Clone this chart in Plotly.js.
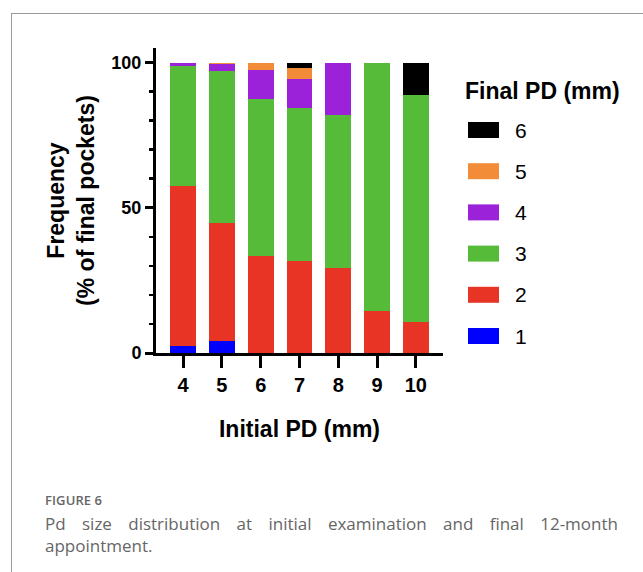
<!DOCTYPE html>
<html>
<head>
<meta charset="utf-8">
<script src="https://cdn.plot.ly/plotly-3.0.1.min.js"></script>
<style>
  html, body { margin: 0; padding: 0; background: #fff; }
  #wrap { position: relative; width: 643px; height: 572px; overflow: hidden; }
  #chart { position: absolute; left: 0; top: 0; width: 643px; height: 572px; }
  #frame { position: absolute; left: 11px; top: 13px; right: -5px; bottom: -5px;
           border-left: 1px solid #9a9a9a; border-top: 1px solid #9a9a9a; pointer-events: none; }
  .cap { position: absolute; left: 45px; width: 573px; font-family: "Open Sans", sans-serif; color: #666; margin: 0; }
  #figlabel { top: 492px; font-size: 13px; line-height: 16px; font-weight: 600; letter-spacing: 0.1px; }
  #line1 { top: 513px; font-size: 17px; line-height: 22px; text-align: justify; text-align-last: justify; }
  #line2 { top: 535px; font-size: 17px; line-height: 22px; }
</style>
</head>
<body>
<div id="wrap">
  <div id="chart"></div>
  <div id="frame"></div>
  <div class="cap" id="figlabel">FIGURE 6</div>
  <div class="cap" id="line1">Pd size distribution at initial examination and final 12-month</div>
  <div class="cap" id="line2">appointment.</div>
</div>
<script>
// Categories: initial PD (mm)
const initialPD = ['4', '5', '6', '7', '8', '9', '10'];
// Series: final PD (mm), % of final pockets
const finalPD1 = [2.3, 4.2, 0, 0, 0, 0, 0];
const finalPD2 = [55.3, 40.6, 33.5, 31.7, 29.2, 14.5, 10.6];
const finalPD3 = [41.1, 52.2, 54.0, 52.8, 52.9, 85.5, 78.2];
const finalPD4 = [1.3, 2.5, 9.9, 9.8, 17.9, 0, 0];
const finalPD5 = [0, 0.5, 2.6, 3.7, 0, 0, 0];
const finalPD6 = [0, 0, 0, 2.0, 0, 0, 11.2];
const seriesNames = ['1', '2', '3', '4', '5', '6'];
const seriesColors = ['#0000ff', '#e83425', '#57bb3a', '#9b22d9', '#f28c38', '#000000'];
const yTickVals = [0, 50, 100];
const yTickText = ['0', '50', '100'];

const seriesValues = [finalPD1, finalPD2, finalPD3, finalPD4, finalPD5, finalPD6];
const FONT = '"Liberation Sans", Arial, sans-serif';

const traces = seriesValues.map((vals, i) => ({
  type: 'bar',
  name: seriesNames[i],
  x: initialPD,
  y: vals,
  marker: { color: seriesColors[i], line: { width: 0 } },
  showlegend: false,
  hoverinfo: 'x+y+name'
}));

// Plot area geometry in pixels
const W = 643, H = 572;
const M = { l: 156, r: 200, t: 48, b: 219 };
const pw = W - M.l - M.r, ph = H - M.t - M.b;
const px2x = px => (px - M.l) / pw;
const py2y = py => (H - M.b - py) / ph;

// Custom legend (top item = 6, bottom item = 1)
const shapes = [];
const annotations = [];
annotations.push({
  xref: 'paper', yref: 'paper', x: px2x(463), y: py2y(91),
  xanchor: 'left', yanchor: 'middle', showarrow: false,
  text: '<b>Final PD (mm)</b>', font: { family: FONT, size: 23, color: '#000' }
});
for (let k = 0; k < seriesNames.length; k++) {
  const i = seriesNames.length - 1 - k;
  const cy = 130 + k * 41.2;
  shapes.push({
    type: 'rect', xref: 'paper', yref: 'paper',
    x0: px2x(468), x1: px2x(499), y0: py2y(cy + 8), y1: py2y(cy - 8),
    fillcolor: seriesColors[i], line: { width: 0 }
  });
  annotations.push({
    xref: 'paper', yref: 'paper', x: px2x(513), y: py2y(cy),
    xanchor: 'left', yanchor: 'middle', showarrow: false,
    text: seriesNames[i], font: { family: FONT, size: 21, color: '#000' }
  });
}

const layout = {
  width: W, height: H,
  margin: M,
  paper_bgcolor: 'rgba(0,0,0,0)',
  plot_bgcolor: 'rgba(0,0,0,0)',
  barmode: 'stack',
  bargap: 0.33,
  font: { family: FONT, color: '#000' },
  xaxis: {
    type: 'category',
    range: [-0.7, 6.7],
    showline: true, linecolor: '#000', linewidth: 3,
    ticks: 'outside', ticklen: 12, tickwidth: 3, tickcolor: '#000',
    showgrid: false, zeroline: false,
    tickfont: { family: FONT, size: 20, color: '#000', weight: 'bold' },
    title: { text: '<b>Initial PD (mm)</b>', font: { family: FONT, size: 23, color: '#000' }, standoff: 26 }
  },
  yaxis: {
    range: [0, 105],
    showline: true, linecolor: '#000', linewidth: 3,
    ticks: 'outside', ticklen: 8, tickwidth: 3, tickcolor: '#000',
    tickmode: 'array', tickvals: yTickVals, ticktext: yTickText,
    minor: { dtick: 10, tick0: 0, ticks: 'outside', ticklen: 4, tickwidth: 2.5, tickcolor: '#000', showgrid: false },
    showgrid: false, zeroline: false,
    tickfont: { family: FONT, size: 18, color: '#000', weight: 'bold' },
    title: { text: '<b>Frequency<br>(% of final pockets)</b>', font: { family: FONT, size: 23, color: '#000' }, standoff: 11 }
  },
  shapes: shapes,
  annotations: annotations
};

Plotly.newPlot('chart', traces, layout, { displayModeBar: false, staticPlot: true });
</script>
</body>
</html>
